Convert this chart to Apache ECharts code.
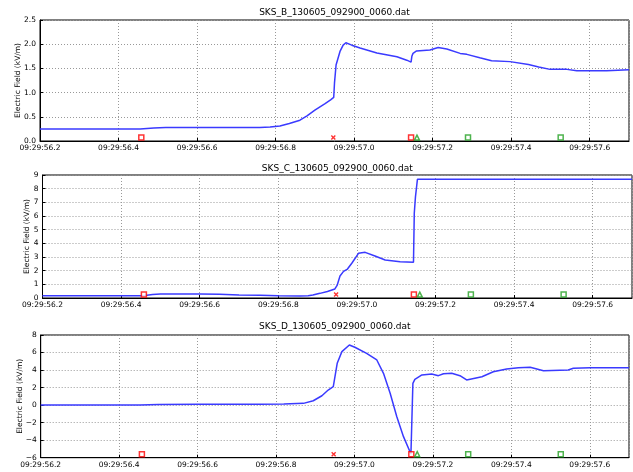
<!DOCTYPE html>
<html><head><meta charset="utf-8">
<script src="https://cdn.jsdelivr.net/npm/echarts@6/dist/echarts.min.js"></script>
<style>html,body{margin:0;padding:0;background:#fff}#c{width:633px;height:472px}</style>
</head><body><div id="c"></div>
<script>
// time axis: milliseconds after 09:29:56.000
const titles = ['SKS_B_130605_092900_0060.dat','SKS_C_130605_092900_0060.dat','SKS_D_130605_092900_0060.dat'];
const yLabel = 'Electric Field (kV/m)';

const tB = [200,300,400,455,490,520,600,700,760,786,811,835,862,880,900,926,940,948,950,954,964,972,979,994,1015,1058,1109,1134,1145,1147,1150,1159,1193,1214,1236,1270,1287,1320,1350,1397,1444,1470,1499,1542,1567,1643,1700];
const vB = [0.25,0.25,0.25,0.25,0.27,0.28,0.28,0.28,0.28,0.29,0.31,0.36,0.43,0.52,0.64,0.77,0.85,0.90,1.20,1.57,1.85,1.98,2.03,1.98,1.92,1.82,1.74,1.67,1.63,1.75,1.81,1.86,1.88,1.93,1.90,1.81,1.79,1.72,1.66,1.64,1.58,1.53,1.48,1.48,1.45,1.45,1.47];

const tC = [200,300,400,456,480,500,600,650,700,754,800,855,876,888,906,925,944,950,957,966,976,987,1004,1021,1046,1072,1110,1144,1146,1149,1154,1300,1500,1700];
const vC = [0.17,0.17,0.17,0.17,0.25,0.29,0.29,0.27,0.22,0.20,0.17,0.15,0.17,0.22,0.34,0.48,0.66,0.95,1.61,1.95,2.12,2.54,3.27,3.34,3.07,2.78,2.66,2.61,6.2,7.4,8.68,8.68,8.68,8.68];

const tD = [200,300,400,453,500,600,700,759,820,870,895,917,933,946,950,956,968,987,1001,1031,1057,1074,1091,1108,1125,1144,1147,1149,1154,1172,1197,1214,1227,1248,1269,1286,1325,1354,1388,1418,1448,1482,1545,1558,1601,1700];
const vD = [0,0,0,0,0.08,0.09,0.09,0.09,0.12,0.2,0.5,1.07,1.72,2.1,2.3,4.77,6.1,6.86,6.6,5.91,5.15,3.63,1.35,-1.32,-3.6,-5.58,-5.7,2.49,2.94,3.44,3.55,3.36,3.58,3.63,3.36,2.87,3.24,3.81,4.12,4.27,4.31,3.93,4.0,4.2,4.27,4.27];

const markerTimes = [458,947,1145,1160,1290,1526];
const markerKinds = ['redSquare','redX','redSquare','greenTriangle','greenSquare','greenSquare'];
const markerY = [0.07,0.25,-5.6];

const yMin = [0,0,-6], yMax = [2.5,9,8], yInt = [0.5,1,2];
const xMin = 200, xMax = 1700, xInt = 200;

const grids = [
  {left:40, top:20, width:589, height:121},
  {left:42.5, top:175, width:589.5, height:123},
  {left:40.7, top:335, width:588.3, height:122.7}
];
const titleY = [12.5, 168.5, 327];
const nameGaps = [18, 11.5, 17];

const FONT = 'DejaVu Sans';
const kindStyle = {
  redSquare: {symbol:'rect', color:'#ff0000'},
  redX: {symbol:'path://M0,2L2,0L5,3L8,0L10,2L7,5L10,8L8,10L5,7L2,10L0,8L3,5Z', color:'#ff0000', filled:true},
  greenTriangle: {symbol:'triangle', color:'#22a022'},
  greenSquare: {symbol:'rect', color:'#22a022'}
};

const chart = echarts.init(document.getElementById('c'), null, {renderer:'canvas'});
const seriesT = [tB,tC,tD], seriesV = [vB,vC,vD];
const option = {
  animation:false,
  backgroundColor:'#fff',
  grid: grids.map(g => Object.assign({show:true, borderColor:'#000', borderWidth:1, backgroundColor:'#fff'}, g)),
  graphic: titles.map((t,i) => ({
    type:'text', x: grids[i].left + grids[i].width/2, y: titleY[i],
    style:{text:t, font:'9px "DejaVu Sans"', fill:'#000', textAlign:'center', textVerticalAlign:'middle'}
  })),
  xAxis: grids.map((g,i) => ({
    gridIndex:i, type:'value', min:xMin, max:xMax, interval:xInt,
    axisLine:{onZero:false, lineStyle:{color:'#000', width:1}},
    axisTick:{inside:true, length:3, lineStyle:{color:'#000'}},
    axisLabel:{showMaxLabel:false, fontSize:7.5, fontFamily:FONT, color:'#000', margin:3,
      formatter: v => '09:29:' + (56 + v/1000).toFixed(1)},
    splitLine:{show:true, lineStyle:{type:[1,2], color:'#999', width:1}}
  })),
  yAxis: grids.map((g,i) => ({
    gridIndex:i, type:'value', min:yMin[i], max:yMax[i], interval:yInt[i],
    name: yLabel, nameLocation:'middle', nameRotate:90, nameGap:nameGaps[i], nameMoveOverlap:false,
    nameTextStyle:{fontSize:7.5, fontFamily:FONT, color:'#000'},
    axisLine:{onZero:false, lineStyle:{color:'#000', width:1}},
    axisTick:{inside:true, length:3, lineStyle:{color:'#000'}},
    axisLabel:{fontSize:7.5, fontFamily:FONT, color:'#000', margin:4,
      formatter: v => { const s = (i===0) ? v.toFixed(1) : String(Math.round(v)); return s.replace('-', '\u2212'); }},
    splitLine:{show:true, lineStyle:{type:[1,2], color:'#999', width:1}}
  })),
  series: []
};
for (let i=0;i<3;i++){
  option.series.push({
    type:'line', xAxisIndex:i, yAxisIndex:i, showSymbol:false, symbol:'none',
    data: seriesT[i].map((t,k)=>[t, seriesV[i][k]]),
    lineStyle:{color:'#3a3aff', width:1.5}, z:3
  });
  option.series.push({
    type:'scatter', xAxisIndex:i, yAxisIndex:i, z:4,
    data: markerTimes.map((t,k)=>{
      const ks = kindStyle[markerKinds[k]];
      return {value:[t, markerY[i]], symbol:ks.symbol, symbolSize:5,
        itemStyle: ks.filled ? {color:ks.color} : {color:'#fff', borderColor:ks.color, borderWidth:1.5}};
    })
  });
}
chart.setOption(option);
</script></body></html>
